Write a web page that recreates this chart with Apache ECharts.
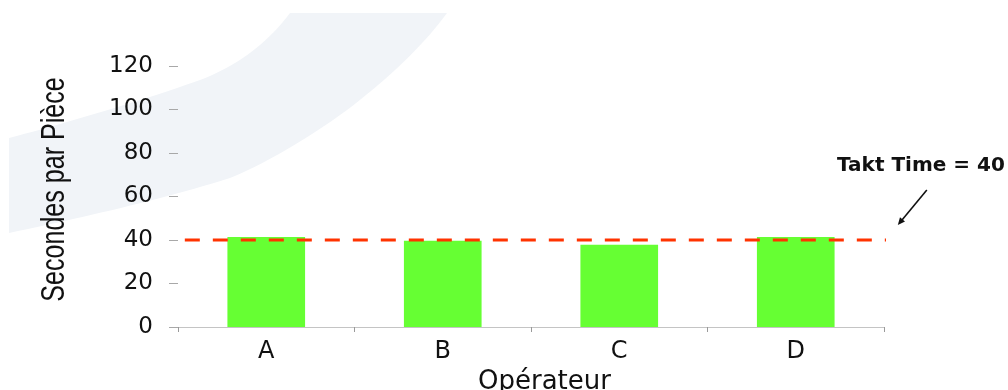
<!DOCTYPE html>
<html>
<head>
<meta charset="utf-8">
<script src="https://cdn.jsdelivr.net/npm/echarts@6/dist/echarts.min.js"></script>
<style>
  html, body { margin: 0; padding: 0; background: #ffffff; }
  #chart { width: 1008px; height: 390px; }
</style>
</head>
<body>
<div id="chart"></div>
<script>
// Cycle time per operator compared with the takt time
const operators = ['A', 'B', 'C', 'D'];
const secondsPerPiece = [41.4, 39.6, 37.8, 41.4];
const taktTime = 40;
const yTicks = { min: 0, max: 120, step: 20 };
const yAxisTitle = 'Secondes par Pièce';
const xAxisTitle = 'Opérateur';

// extent of the takt line along the hidden value axis (category units)
const taktFrom = -0.12;
const taktTo = 4.05;

const chart = echarts.init(document.getElementById('chart'), null, { renderer: 'canvas' });

const baseFont = "'DejaVu Sans', 'Liberation Sans', Arial, sans-serif";

// sample a cubic bezier segment into polygon points
function bezier(p0, p1, p2, p3, n) {
  const pts = [];
  for (let i = 0; i <= n; i++) {
    const t = i / n, u = 1 - t;
    pts.push([
      u * u * u * p0[0] + 3 * u * u * t * p1[0] + 3 * u * t * t * p2[0] + t * t * t * p3[0],
      u * u * u * p0[1] + 3 * u * u * t * p1[1] + 3 * u * t * t * p2[1] + t * t * t * p3[1]
    ]);
  }
  return pts;
}

// decorative swoosh in the top-left background
const swoosh = [].concat(
  bezier([9, 138], [70, 122], [150, 98], [200, 80], 24),
  bezier([200, 80], [240, 65], [270, 40], [290, 13], 20),
  [[447, 13]],
  bezier([447, 13], [420, 50], [380, 85], [347, 110], 20),
  bezier([347, 110], [320, 130], [270, 162], [230, 178], 20),
  bezier([230, 178], [160, 200], [80, 218], [9, 233], 24)
);

chart.setOption({
  animation: false,
  backgroundColor: '#ffffff',
  grid: { left: 178, right: 124, top: 66, bottom: 63, outerBoundsMode: 'none', containLabel: false },
  xAxis: [{
    type: 'category',
    data: operators,
    boundaryGap: true,
    axisLine: { show: true, lineStyle: { color: '#c4c4c4', width: 1 } },
    axisTick: { show: true, length: 5, lineStyle: { color: '#9a9a9a' } },
    axisLabel: { color: '#111', fontSize: 24, fontFamily: baseFont, margin: 13 },
    name: xAxisTitle,
    nameLocation: 'middle',
    nameGap: 38,
    nameTextStyle: { color: '#111', fontSize: 26, fontFamily: baseFont, padding: [0, 0, 0, 27] }
  }, {
    type: 'value',
    min: 0,
    max: operators.length,
    show: false
  }],
  yAxis: {
    type: 'value',
    min: yTicks.min,
    max: yTicks.max,
    interval: yTicks.step,
    axisLine: { show: false },
    axisTick: { show: true, length: 9, lineStyle: { color: '#a8a8a8' } },
    splitLine: { show: false },
    axisLabel: { color: '#111', fontSize: 23, fontFamily: baseFont, margin: 25 }
  },
  series: [{
    name: 'Secondes par pièce',
    type: 'bar',
    data: secondsPerPiece,
    barWidth: '44%',
    itemStyle: { color: '#66ff33' },
    z: 2
  }, {
    name: 'Takt Time',
    type: 'line',
    xAxisIndex: 1,
    yAxisIndex: 0,
    data: [[taktFrom, taktTime], [taktTo, taktTime]],
    symbol: 'none',
    clip: false,
    lineStyle: { color: '#ff3300', width: 3, type: [15, 13] },
    z: 5
  }]
});

// annotation pointing at the end of the takt line
const end = chart.convertToPixel({ xAxisIndex: 1, yAxisIndex: 0 }, [taktTo, taktTime]);
const tip = [end[0] + 5, end[1] - 15];
const tail = [end[0] + 34, end[1] - 50];
const ang = Math.atan2(tail[1] - tip[1], tail[0] - tip[0]);
const head = 8, spread = 0.42;

// vertical title placed beside the value axis, in a condensed setting
const axisMid = chart.convertToPixel({ xAxisIndex: 1, yAxisIndex: 0 }, [0, (yTicks.min + yTicks.max) / 2]);

chart.setOption({
  graphic: [{
    type: 'polygon',
    z: -10,
    silent: true,
    shape: { points: swoosh },
    style: { fill: '#f1f4f8' }
  }, {
    type: 'text',
    z: 10,
    x: axisMid[0] - 123,
    y: axisMid[1] - 7,
    rotation: Math.PI / 2,
    scaleX: 0.76,
    style: {
      text: yAxisTitle,
      fill: '#111',
      font: "33px 'Liberation Sans', Arial, sans-serif",
      textAlign: 'center',
      textVerticalAlign: 'middle'
    }
  }, {
    type: 'line',
    z: 10,
    shape: { x1: tail[0], y1: tail[1], x2: tip[0] + 3 * Math.cos(ang), y2: tip[1] + 3 * Math.sin(ang) },
    style: { stroke: '#111', lineWidth: 1.6 }
  }, {
    type: 'polygon',
    z: 10,
    shape: {
      points: [
        tip,
        [tip[0] + head * Math.cos(ang - spread), tip[1] + head * Math.sin(ang - spread)],
        [tip[0] + head * Math.cos(ang + spread), tip[1] + head * Math.sin(ang + spread)]
      ]
    },
    style: { fill: '#111' }
  }, {
    type: 'text',
    z: 10,
    x: end[0] + 112,
    y: end[1] - 74,
    style: {
      text: 'Takt Time = ' + taktTime,
      fill: '#111',
      font: "bold 20px 'DejaVu Sans', 'Liberation Sans', Arial, sans-serif",
      textAlign: 'right',
      textVerticalAlign: 'middle'
    }
  }]
});
</script>
</body>
</html>
